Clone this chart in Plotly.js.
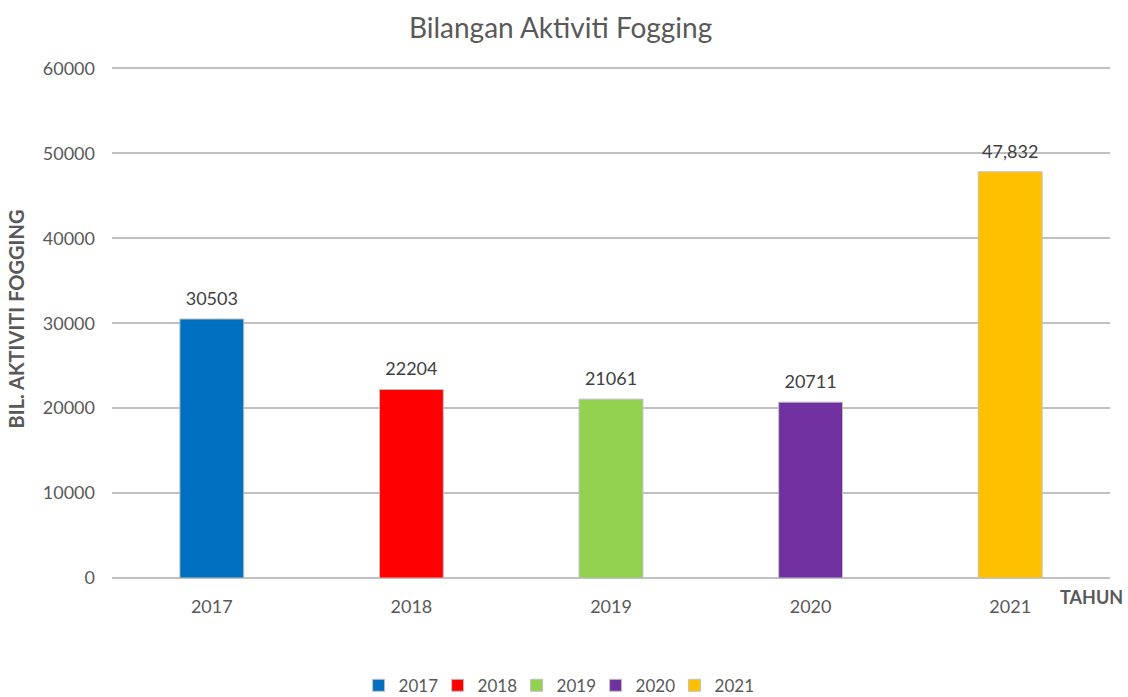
<!DOCTYPE html>
<html>
<head>
<meta charset="utf-8">
<script src="https://cdn.plot.ly/plotly-3.0.1.min.js"></script>
<style>html,body{margin:0;padding:0;background:#fff;}#chart{width:1128px;height:697px;}</style>
</head>
<body>
<div id="chart"></div>
<script>
const years = ["2017", "2018", "2019", "2020", "2021"];
const values = [30503, 22204, 21061, 20711, 47832];
const labels = ["30503", "22204", "21061", "20711", "47,832"];
const colors = ["#0070C0", "#FF0000", "#92D050", "#7030A0", "#FFC000"];

const FONT = "Lato, 'Open Sans', sans-serif";
const traces = years.map((y, i) => ({
  type: "bar",
  name: y,
  x: [y],
  y: [values[i]],
  marker: {color: colors[i], line: {color: "#c0c0c0", width: 1}},
  width: 0.32,
  hoverinfo: "x+y"
}));

traces.push({
  type: "scatter",
  mode: "markers+text",
  x: years,
  y: values,
  text: labels,
  textposition: "top center",
  cliponaxis: false,
  marker: {size: 14, opacity: 0},
  textfont: {family: FONT, size: 18, color: "#404040"},
  showlegend: false,
  hoverinfo: "skip"
});

const layout = {
  width: 1128, height: 697,
  margin: {l: 112, r: 18, t: 59.5, b: 119, autoexpand: false},
  paper_bgcolor: "#ffffff", plot_bgcolor: "#ffffff",
  barmode: "overlay",
  showlegend: true,
  title: {text: "Bilangan Aktiviti Fogging", x: 0.497, xanchor: "center", y: 0.96, yanchor: "middle",
    font: {family: FONT, size: 28, color: "#595959"}},
  xaxis: {
    type: "category", categoryorder: "array", categoryarray: years,
    showgrid: false, zeroline: false, showline: false,
    ticks: "", ticklabelstandoff: 16,
    tickfont: {family: FONT, size: 18, color: "#595959"}
  },
  yaxis: {
    range: [0, 61000], tickvals: [0, 10000, 20000, 30000, 40000, 50000, 60000], tickformat: "d",
    showgrid: true, gridcolor: "#c0c0c0", gridwidth: 2,
    zeroline: true, zerolinecolor: "#c0c0c0", zerolinewidth: 2,
    showline: false, ticks: "", ticklabelstandoff: 16,
    tickfont: {family: FONT, size: 18, color: "#595959"},
    title: {text: "BIL. AKTIVITI FOGGING", standoff: 12,
      font: {family: FONT, size: 20, color: "#595959", weight: "bold"}}
  },
  legend: {orientation: "h", x: 0.445, xanchor: "center", y: -0.208, yanchor: "middle",
    font: {family: FONT, size: 17, color: "#595959"}, itemwidth: 30,
    entrywidth: 34, entrywidthmode: "pixels", traceorder: "normal"},
  annotations: [{
    text: "<b>TAHUN</b>", xref: "paper", yref: "paper", x: 0.981, y: -0.037,
    xanchor: "center", yanchor: "middle", showarrow: false,
    font: {family: FONT, size: 18, color: "#595959"}
  }]
};

Plotly.newPlot("chart", traces, layout, {displayModeBar: false, staticPlot: true});
</script>
</body>
</html>
